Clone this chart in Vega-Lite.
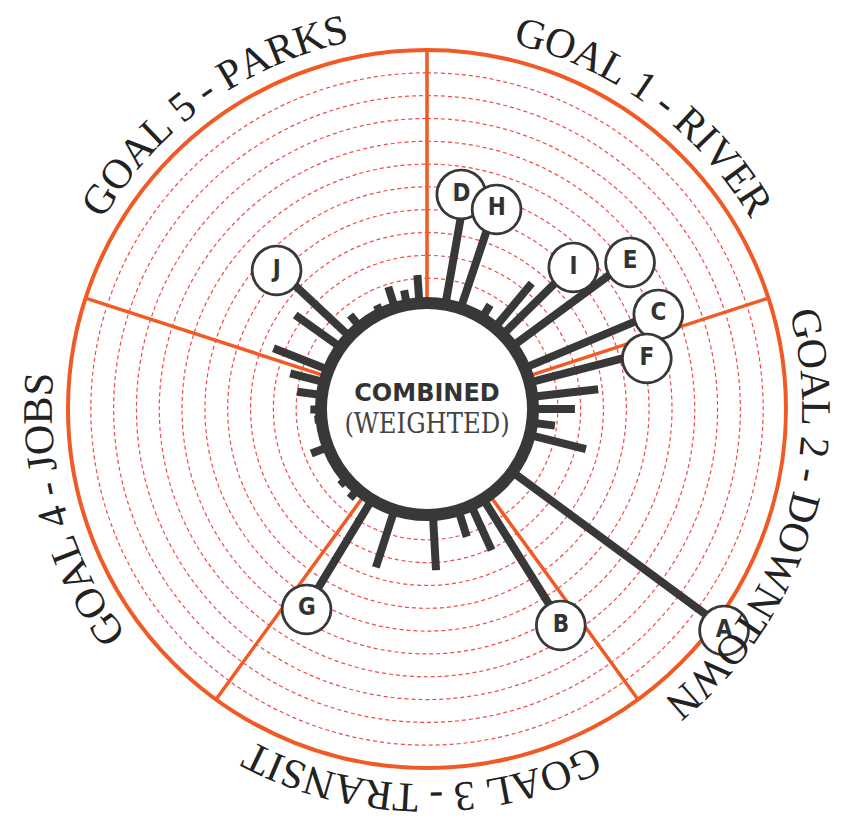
{
  "$schema": "https://vega.github.io/schema/vega-lite/v6.json",
  "width": 800,
  "height": 800,
  "autosize": "none",
  "padding": {"left": 27, "top": 9, "right": 14, "bottom": 12},
  "background": "white",
  "config": {"view": {"stroke": null}},
  "datasets": {
    "rings": [{"r": 1}, {"r": 2}, {"r": 3}, {"r": 4}, {"r": 5}, {"r": 6}, {"r": 7}, {"r": 8}, {"r": 9}, {"r": 10}],
    "spokes": [{"angle": 0}, {"angle": 72}, {"angle": 144}, {"angle": 216}, {"angle": 288}],
    "bars": [
      {"angle": 10, "value": 3.97},
      {"angle": 18.5, "value": 3.73},
      {"angle": 31.2, "value": 0.6},
      {"angle": 39.8, "value": 2.44},
      {"angle": 45.5, "value": 3.35},
      {"angle": 53.7, "value": 5.39},
      {"angle": 67.2, "value": 5.35},
      {"angle": 75.5, "value": 4.25},
      {"angle": 83.4, "value": 2.82},
      {"angle": 90, "value": 1.75},
      {"angle": 97.4, "value": 0.92},
      {"angle": 104.2, "value": 2.45},
      {"angle": 126.4, "value": 10.54},
      {"angle": 148.0, "value": 5.42},
      {"angle": 155.4, "value": 2.07},
      {"angle": 162.7, "value": 1.13},
      {"angle": 176.8, "value": 2.34},
      {"angle": 197.9, "value": 2.56},
      {"angle": 211.3, "value": 4.49},
      {"angle": 220.8, "value": 0.44},
      {"angle": 228.9, "value": 0.33},
      {"angle": 249, "value": 0.7},
      {"angle": 264.5, "value": 0.22},
      {"angle": 269.7, "value": 0.38},
      {"angle": 277.6, "value": 1.01},
      {"angle": 284.6, "value": 1.46},
      {"angle": 291.6, "value": 2.5},
      {"angle": 305.5, "value": 2.36},
      {"angle": 313.1, "value": 3.37},
      {"angle": 320.7, "value": 0.59},
      {"angle": 334.2, "value": 0.33},
      {"angle": 342.4, "value": 0.88},
      {"angle": 349.1, "value": 0.57},
      {"angle": 355.9, "value": 1.15}
    ],
    "labels": [
      {"letter": "D", "angle": 9, "r": 4.89},
      {"letter": "H", "angle": 19, "r": 4.65},
      {"letter": "I", "angle": 45.5, "r": 4.27},
      {"letter": "E", "angle": 53.7, "r": 6.31},
      {"letter": "C", "angle": 67.2, "r": 6.27},
      {"letter": "F", "angle": 76.5, "r": 5.18},
      {"letter": "A", "angle": 126.4, "r": 11.45},
      {"letter": "B", "angle": 148.0, "r": 6.34},
      {"letter": "G", "angle": 211.3, "r": 5.41},
      {"letter": "J", "angle": 313.1, "r": 4.29}
    ],
    "goals": [
      {"ch": "G", "a": 15.5}, {"ch": "O", "a": 20.05}, {"ch": "A", "a": 24.6}, {"ch": "L", "a": 28.8}, {"ch": "1", "a": 33.87}, {"ch": "-", "a": 38.07}, {"ch": "R", "a": 42.79}, {"ch": "I", "a": 45.94}, {"ch": "V", "a": 49.27}, {"ch": "E", "a": 53.47}, {"ch": "R", "a": 57.49},
      {"ch": "G", "a": 77.3}, {"ch": "O", "a": 81.85}, {"ch": "A", "a": 86.4}, {"ch": "L", "a": 90.6}, {"ch": "2", "a": 95.67}, {"ch": "-", "a": 99.87}, {"ch": "D", "a": 104.77}, {"ch": "O", "a": 109.32}, {"ch": "W", "a": 114.56}, {"ch": "N", "a": 119.81}, {"ch": "T", "a": 124.01}, {"ch": "O", "a": 128.21}, {"ch": "W", "a": 133.46}, {"ch": "N", "a": 138.71},
      {"ch": "G", "a": 156.07}, {"ch": "O", "a": 160.62}, {"ch": "A", "a": 165.17}, {"ch": "L", "a": 169.37}, {"ch": "3", "a": 174.44}, {"ch": "-", "a": 178.64}, {"ch": "T", "a": 183.19}, {"ch": "R", "a": 187.21}, {"ch": "A", "a": 191.59}, {"ch": "N", "a": 196.14}, {"ch": "S", "a": 200.16}, {"ch": "I", "a": 202.96}, {"ch": "T", "a": 205.94},
      {"ch": "G", "a": 235.5}, {"ch": "O", "a": 240.05}, {"ch": "A", "a": 244.6}, {"ch": "L", "a": 248.8}, {"ch": "4", "a": 253.87}, {"ch": "-", "a": 258.07}, {"ch": "J", "a": 261.92}, {"ch": "O", "a": 265.42}, {"ch": "B", "a": 269.79}, {"ch": "S", "a": 273.65},
      {"ch": "G", "a": 302.63}, {"ch": "O", "a": 307.18}, {"ch": "A", "a": 311.73}, {"ch": "L", "a": 315.93}, {"ch": "5", "a": 321.0}, {"ch": "-", "a": 325.2}, {"ch": "P", "a": 329.58}, {"ch": "A", "a": 333.6}, {"ch": "R", "a": 337.98}, {"ch": "K", "a": 342.35}, {"ch": "S", "a": 346.38}
    ]
  },
  "layer": [
    {
      "data": {"name": "rings"},
      "mark": {"type": "arc", "filled": false, "stroke": "#f04a4a", "strokeWidth": 1.2, "strokeDash": [4, 3], "theta": 0, "theta2": 6.2832},
      "encoding": {
        "radius": {"field": "r", "type": "quantitative", "stack": null, "scale": {"type": "linear", "domain": [0, 11], "range": [108, 359], "zero": false}}
      }
    },
    {
      "data": {"values": [{"r": 11}]},
      "mark": {"type": "arc", "filled": false, "stroke": "#f15a24", "strokeWidth": 4, "theta": 0, "theta2": 6.2832},
      "encoding": {
        "radius": {"field": "r", "type": "quantitative", "stack": null, "scale": {"type": "linear", "domain": [0, 11], "range": [108, 359], "zero": false}}
      }
    },
    {
      "data": {"name": "spokes"},
      "mark": {"type": "arc", "filled": false, "stroke": "#f15a24", "strokeWidth": 3.5},
      "encoding": {
        "theta": {"field": "angle", "type": "quantitative", "stack": null, "scale": {"domain": [0, 360], "range": [0, 6.283185307179586]}},
        "theta2": {"field": "angle"},
        "radius": {"datum": 11, "type": "quantitative", "stack": null, "scale": {"type": "linear", "domain": [0, 11], "range": [108, 359], "zero": false}},
        "radius2": {"datum": -0.25}
      }
    },
    {
      "data": {"name": "bars"},
      "mark": {"type": "arc", "filled": false, "stroke": "#383838", "strokeWidth": 8},
      "encoding": {
        "theta": {"field": "angle", "type": "quantitative", "stack": null, "scale": {"domain": [0, 360], "range": [0, 6.283185307179586]}},
        "theta2": {"field": "angle"},
        "radius": {"field": "value", "type": "quantitative", "stack": null, "scale": {"type": "linear", "domain": [0, 11], "range": [108, 359], "zero": false}},
        "radius2": {"datum": -0.25}
      }
    },
    {
      "data": {"values": [{"r": -0.175}]},
      "mark": {"type": "arc", "fill": "white", "stroke": "#383838", "strokeWidth": 8, "theta": 0, "theta2": 6.2832},
      "encoding": {
        "radius": {"field": "r", "type": "quantitative", "stack": null, "scale": {"type": "linear", "domain": [0, 11], "range": [108, 359], "zero": false}}
      }
    },
    {
      "data": {"values": [{"t": "COMBINED"}]},
      "mark": {"type": "text", "font": "DejaVu Sans", "fontWeight": "bold", "fontSize": 24, "fill": "#333333", "align": "center", "baseline": "middle", "dy": -15},
      "encoding": {"text": {"field": "t"}}
    },
    {
      "data": {"values": [{"t": "(WEIGHTED)"}]},
      "mark": {"type": "text", "font": "DejaVu Serif Condensed", "fontSize": 27, "fill": "#444444", "align": "center", "baseline": "middle", "dy": 16},
      "encoding": {"text": {"field": "t"}}
    },
    {
      "data": {"name": "labels"},
      "mark": {"type": "text", "font": "DejaVu Sans", "fontSize": 64, "fill": "white", "stroke": "#383838", "strokeWidth": 2.7, "align": "center", "baseline": "middle"},
      "encoding": {
        "theta": {"field": "angle", "type": "quantitative", "stack": null, "scale": {"domain": [0, 360], "range": [0, 6.283185307179586]}},
        "radius": {"field": "r", "type": "quantitative", "stack": null, "scale": {"type": "linear", "domain": [0, 11], "range": [108, 359], "zero": false}},
        "text": {"value": "●"}
      }
    },
    {
      "data": {"name": "labels"},
      "mark": {"type": "text", "font": "DejaVu Sans Condensed", "fontWeight": "bold", "fontSize": 24, "fill": "#333333", "align": "center", "baseline": "middle", "dy": 1.5},
      "encoding": {
        "theta": {"field": "angle", "type": "quantitative", "stack": null, "scale": {"domain": [0, 360], "range": [0, 6.283185307179586]}},
        "radius": {"field": "r", "type": "quantitative", "stack": null, "scale": {"type": "linear", "domain": [0, 11], "range": [108, 359], "zero": false}},
        "text": {"field": "letter"}
      }
    },
    {
      "data": {"name": "goals"},
      "mark": {"type": "text", "font": "Liberation Serif", "fontSize": 42, "fill": "#222222", "align": "center", "baseline": "middle"},
      "encoding": {
        "theta": {"field": "a", "type": "quantitative", "stack": null, "scale": {"domain": [0, 360], "range": [0, 6.283185307179586]}},
        "radius": {"datum": 12.28, "type": "quantitative", "stack": null, "scale": {"type": "linear", "domain": [0, 11], "range": [108, 359], "zero": false}},
        "angle": {"field": "a", "type": "quantitative", "scale": null},
        "text": {"field": "ch"}
      }
    }
  ]
}
